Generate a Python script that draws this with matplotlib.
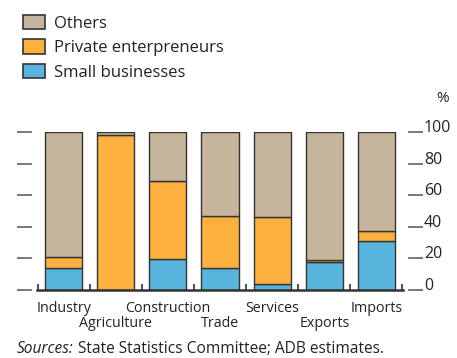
import matplotlib
matplotlib.use("Agg")
import matplotlib.pyplot as plt
from matplotlib.patches import Patch
from matplotlib.transforms import blended_transform_factory

plt.rcParams['font.family'] = ['Open Sans', 'DejaVu Sans']

sectors = ['Industry', 'Agriculture', 'Construction', 'Trade', 'Services', 'Exports', 'Imports']
small_business = [13.5, 0.0, 19.4, 13.9, 3.5, 17.5, 31.1]
private_entr = [7.4, 98.0, 49.7, 32.9, 42.9, 1.0, 6.4]
others = [100 - s - p for s, p in zip(small_business, private_entr)]

c_small = '#58b4dc'
c_priv = '#fbb040'
c_oth = '#c4b59c'
edge = '#333333'
txt = '#222222'

W, H = 457, 358
fig = plt.figure(figsize=(W / 100, H / 100), dpi=100)
ax = fig.add_axes([37 / W, 68.5 / H, 366 / W, 157.2 / H])

x = list(range(len(sectors)))
w = 0.71
ax.bar(x, small_business, w, color=c_small, edgecolor=edge, linewidth=1.0)
ax.bar(x, private_entr, w, bottom=small_business, color=c_priv, edgecolor=edge, linewidth=1.0)
bottoms = [s + p for s, p in zip(small_business, private_entr)]
ax.bar(x, others, w, bottom=bottoms, color=c_oth, edgecolor=edge, linewidth=1.0)

ax.set_xlim(-0.51, len(sectors) - 0.49)
ax.set_ylim(0, 100)

# baseline with little upward ticks between the bars
ax.spines['top'].set_visible(False)
ax.spines['bottom'].set_color(edge)
ax.spines['bottom'].set_linewidth(1.8)
ax.set_xticks([i - 0.5 for i in range(len(sectors) + 1)])
ax.set_xticklabels([])
ax.tick_params(axis='x', direction='in', length=4, width=1.2, color=edge)

# y axis: loose dashes on the left, dashes + labels on the right
# (offsets in points, 5 px = 3.6 pt at 100 dpi)
ax.spines['left'].set_position(('outward', 3.6))
ax.spines['right'].set_position(('outward', 3.6))
ax.spines['left'].set_color('none')
ax.spines['right'].set_color('none')
ax.set_yticks([0, 20, 40, 60, 80, 100])
ax.tick_params(axis='y', left=True, right=True, labelleft=False, labelright=True,
               direction='out', length=10.5, width=1.1, color='#555555', pad=1,
               labelsize=11.5, labelcolor=txt)
# labels sit on the dash, not centred on it
for lab in ax.get_yticklabels(which='both'):
    lab.set_verticalalignment('baseline')
for t in ax.yaxis.get_major_ticks():
    t.label2.set_verticalalignment('baseline')

# category labels, staggered on two rows
trans = blended_transform_factory(ax.transData, ax.transAxes)
for i, name in enumerate(sectors):
    yy = -0.118 if i % 2 == 0 else -0.215
    ax.text(i, yy, name, transform=trans, ha='center', va='center',
            fontsize=10.3, color=txt)

fig.text(443 / W, 1 - 98 / H, '%', ha='center', va='center', fontsize=11, color=txt)

handles = [Patch(facecolor=c_oth, edgecolor=edge, linewidth=1.2, label='Others'),
           Patch(facecolor=c_priv, edgecolor=edge, linewidth=1.2, label='Private enterpreneurs'),
           Patch(facecolor=c_small, edgecolor=edge, linewidth=1.2, label='Small businesses')]
fig.legend(handles=handles, loc='upper left', bbox_to_anchor=(23 / W, 1 - 15 / H),
           frameon=False, fontsize=12, handlelength=1.3, handleheight=0.95,
           handletextpad=0.55, labelspacing=0.45, borderaxespad=0, borderpad=0,
           labelcolor=txt)

# source line: italic "Sources:" then the rest
src = fig.text(17 / W, 1 - 349 / H, 'Sources:', ha='left', va='center',
               fontsize=11.2, style='italic', color=txt)
fig.canvas.draw()
bb = src.get_window_extent()
fig.text((bb.x1 + 4) / W, 1 - 349 / H, 'State Statistics Committee; ADB estimates.',
         ha='left', va='center', fontsize=11.2, color=txt)

fig.savefig('out.png', dpi=100)
